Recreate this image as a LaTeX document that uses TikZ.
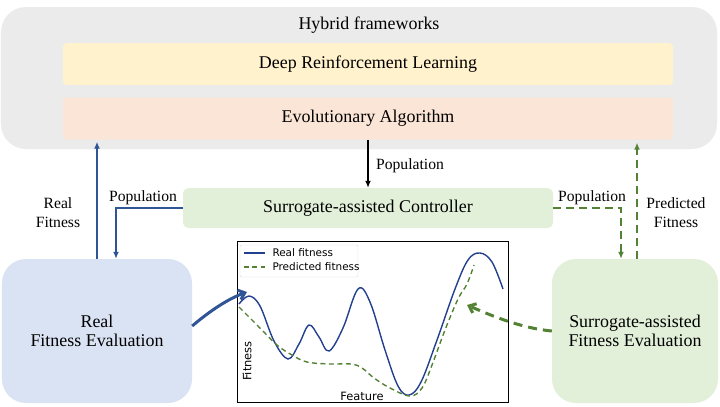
\documentclass[tikz,border=0pt]{standalone}
\usepackage{fontspec}
\setmainfont{Liberation Serif}
\newfontfamily\plotfont{DejaVu Sans}
\usetikzlibrary{positioning,arrows.meta}
\definecolor{framegray}{HTML}{EBEBEB}
\definecolor{drlfill}{HTML}{FFF2CC}
\definecolor{evofill}{HTML}{FBE5D6}
\definecolor{ctrlfill}{HTML}{E2F0D9}
\definecolor{realfill}{HTML}{DAE3F3}
\definecolor{realline}{HTML}{2F5597}
\definecolor{predline}{HTML}{548235}
\definecolor{curveblue}{HTML}{23408E}
\tikzset{
	layer/.style={rounded corners=4bp, minimum width=610bp, minimum height=42bp, inner sep=0pt, font=\fontsize{18}{19}\selectfont},
	evalbox/.style={rounded corners=24bp, minimum height=144bp, inner sep=0pt, align=center, font=\fontsize{18}{19}\selectfont},
	lbl/.style={align=center, inner sep=0pt, font=\fontsize{15.7}{19}\selectfont},
	realarrow/.style={draw=realline, line width=2bp, -{Latex[length=7bp,width=6bp]}},
	predarrow/.style={draw=predline, line width=2bp, dash pattern=on 8bp off 5bp, -{Latex[length=7bp,width=6bp]}},
	plotfnt/.style={inner sep=0pt, text=black, font=\plotfont\fontsize{10.5}{12}\selectfont},
}

\begin{document}
\begin{tikzpicture}[x=1bp, y=-1bp] %
				\useasboundingbox (0,0) rectangle (720,406);
				% Frame
				\node[fill=framegray, rounded corners=25bp, minimum width=716bp, minimum height=142bp, inner sep=0pt] (hybrid) at (359,78) {};
				\node[inner sep=0pt, font=\fontsize{18}{19}\selectfont] (hybridtext) at (369,25) {Hybrid frameworks};
				\node[layer, fill=evofill] (EA) at (368,118.5) {Evolutionary Algorithm};
				\node[layer, fill=drlfill, above=12bp of EA] (DRL) {Deep Reinforcement Learning};
				
				% Controller and evaluations
				\node[fill=ctrlfill, rounded corners=6bp, minimum width=370bp, minimum height=40bp, inner sep=0pt, font=\fontsize{18}{19}\selectfont] (SC) at (368,208) {Surrogate-assisted Controller};
				\node[evalbox, fill=realfill, minimum width=190bp] (RFE) at (97,331) {Real\\Fitness Evaluation};
				\node[evalbox, fill=ctrlfill, minimum width=166bp] (SFE) at (635,331) {Surrogate-assisted\\Fitness Evaluation};
				
				% Fitness plot
				\node[draw=black, line width=0.9bp, minimum width=271bp, minimum height=161bp, inner sep=0pt] (plot) at (372.5,321.5) {};
				\draw[curveblue, line width=1.4bp] plot[smooth, tension=0.6] coordinates {(239,304) (249,296) (260,306) (274,341) (288,359) (299,344) (309,325) (319,337) (329,351) (343,328) (358,289) (370,302) (385,350) (398,386) (409,395) (421,382) (437,340) (455,289) (468,260) (480,253) (492,262) (503,289)};
				\draw[predline, line width=1.4bp, dash pattern=on 5bp off 3.5bp] plot[smooth, tension=0.6] coordinates {(239,307) (258,326) (277,345) (292,355) (307,362) (330,364) (351,364) (362,368) (374,378) (390,388) (410,396) (422,388) (432,365) (445,330) (458,299) (467,284) (474,265)};
				\node[draw=gray!30, fill=white, rounded corners=2bp, minimum width=118bp, minimum height=32bp, inner sep=0pt] (legend) at (299,261) {};
				\draw[curveblue, line width=1.4bp] ([xshift=4bp,yshift=-8bp]legend.north west) -- ++(21bp,0) node[plotfnt, anchor=west, xshift=7bp] (legendreal) {Real fitness};
				\draw[predline, line width=1.4bp, dash pattern=on 5bp off 3.5bp] ([xshift=4bp,yshift=-22bp]legend.north west) -- ++(21bp,0) node[plotfnt, anchor=west, xshift=7bp] (legendpred) {Predicted fitness};
				\node[plotfnt, font=\plotfont\fontsize{11.5}{13}\selectfont] (xlabel) at (362,396) {Feature};
				\node[plotfnt, font=\plotfont\fontsize{11.5}{13}\selectfont, rotate=90] (ylabel) at (247,361) {Fitness};
				\coordinate (realtip) at (247,292);
				\coordinate (predtip) at (467,305);
				
				% Emission
				\draw[line width=2bp, -{Latex[length=7bp,width=6bp]}] (EA) -- (SC);
				\draw[realarrow] (SC.west) -| ([xshift=19bp]RFE.north);
				\draw[realarrow] (RFE.north) -- ([yshift=-2bp]RFE.north |- EA.south);
				\draw[predarrow] (SC.east) -| ([xshift=-14bp]SFE.north);
				\draw[predarrow] ([xshift=2bp]SFE.north) -- ([xshift=2bp,yshift=-3bp]SFE.north |- EA.south);
				\draw[realline, line width=3bp, -{Straight Barb[length=6bp,width=10bp]}] ([yshift=5bp]RFE.east) .. controls (205,315) and (225,300) .. (realtip);
				\draw[predline, line width=3bp, dash pattern=on 9bp off 6bp, -{Straight Barb[length=6bp,width=10bp]}] (SFE.west) .. controls (520,328) and (490,315) .. (predtip);
				
				% Labels
				\node[lbl] (poptop) at (410,166) {Population};
				\node[lbl] (popleft) at (143,198) {Population};
				\node[lbl] (popright) at (592,198) {Population};
				\node[lbl] (realfit) at (58,213) {Real\\Fitness};
				\node[lbl] (predfit) at (676,213) {Predicted\\Fitness};
			\end{tikzpicture}
\end{document}
